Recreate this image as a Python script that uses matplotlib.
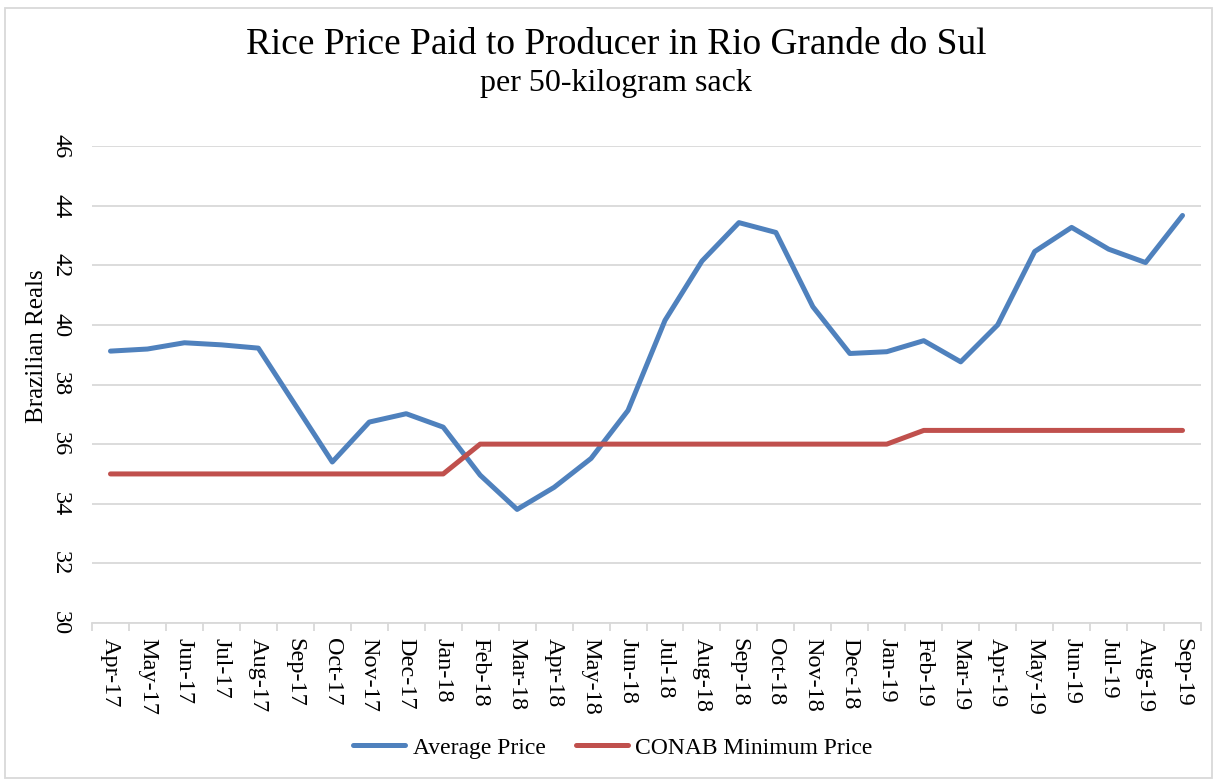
import matplotlib.pyplot as plt
import numpy as np
from matplotlib.patches import Rectangle

months = ["Apr-17", "May-17", "Jun-17", "Jul-17", "Aug-17", "Sep-17", "Oct-17",
          "Nov-17", "Dec-17", "Jan-18", "Feb-18", "Mar-18", "Apr-18", "May-18",
          "Jun-18", "Jul-18", "Aug-18", "Sep-18", "Oct-18", "Nov-18", "Dec-18",
          "Jan-19", "Feb-19", "Mar-19", "Apr-19", "May-19", "Jun-19", "Jul-19",
          "Aug-19", "Sep-19"]
average_price = [39.12, 39.19, 39.40, 39.33, 39.22, 37.31, 35.40, 36.74, 37.02,
                 36.57, 34.96, 33.81, 34.55, 35.52, 37.13, 40.15, 42.14, 43.43,
                 43.10, 40.61, 39.04, 39.10, 39.47, 38.76, 40.00, 42.46, 43.27,
                 42.54, 42.09, 43.67]
conab_min = [35.0] * 10 + [36.0] * 12 + [36.46] * 8

serif = "Liberation Serif"
plt.rcParams["font.family"] = serif

fig = plt.figure(figsize=(12.15, 7.81), dpi=100)
ax = fig.add_axes([92 / 1215, 1 - 623 / 781, (1201 - 92) / 1215, (623 - 146) / 781])

x = np.arange(len(months))
ax.plot(x, average_price, color="#4F81BD", lw=3.6, label="Average Price",
        solid_capstyle="round", solid_joinstyle="round")
ax.plot(x, conab_min, color="#C0504D", lw=3.6, label="CONAB Minimum Price",
        solid_capstyle="round", solid_joinstyle="round")

ax.set_xlim(-0.5, len(months) - 0.5)
ax.set_ylim(30, 46)
ax.set_yticks(np.arange(30, 47, 2))
ax.yaxis.grid(True, color="#D9D9D9", lw=1.3)
ax.set_axisbelow(True)

ax.set_xticks(x)
ax.set_xticklabels(months, rotation=270, fontsize=17.5)
ax.set_xticks(np.arange(-0.5, len(months)), minor=True)
ax.tick_params(axis="x", which="major", length=0, pad=11)
ax.tick_params(axis="x", which="minor", length=6, color="#D9D9D9", width=1.3)
ax.tick_params(axis="y", length=0, pad=15, labelsize=17.5)
for lab in ax.get_yticklabels():
    lab.set_rotation(270)
    lab.set_va("center")

for s in ["top", "right", "left"]:
    ax.spines[s].set_visible(False)
ax.spines["bottom"].set_color("#D9D9D9")
ax.spines["bottom"].set_linewidth(1.3)

fig.text(37 / 1215, 1 - 346 / 781, "Brazilian Reals", rotation=90,
         ha="center", va="center", fontsize=18)
fig.text(616 / 1215, 1 - 45 / 781, "Rice Price Paid to Producer in Rio Grande do Sul",
         ha="center", va="center", fontsize=26.9)
fig.text(616 / 1215, 1 - 83 / 781, "per 50-kilogram sack",
         ha="center", va="center", fontsize=23)

fig.legend(loc="center", bbox_to_anchor=(613 / 1215, 1 - 748 / 781), ncol=2,
           frameon=False, fontsize=17, handlelength=2.2, columnspacing=1.3,
           handletextpad=0.3)

fig.patches.append(Rectangle((5 / 1215, 3 / 781), 1207 / 1215, 770 / 781,
                             transform=fig.transFigure, fill=False,
                             edgecolor="#D9D9D9", lw=1.3))

fig.savefig("out.png", dpi=100)
